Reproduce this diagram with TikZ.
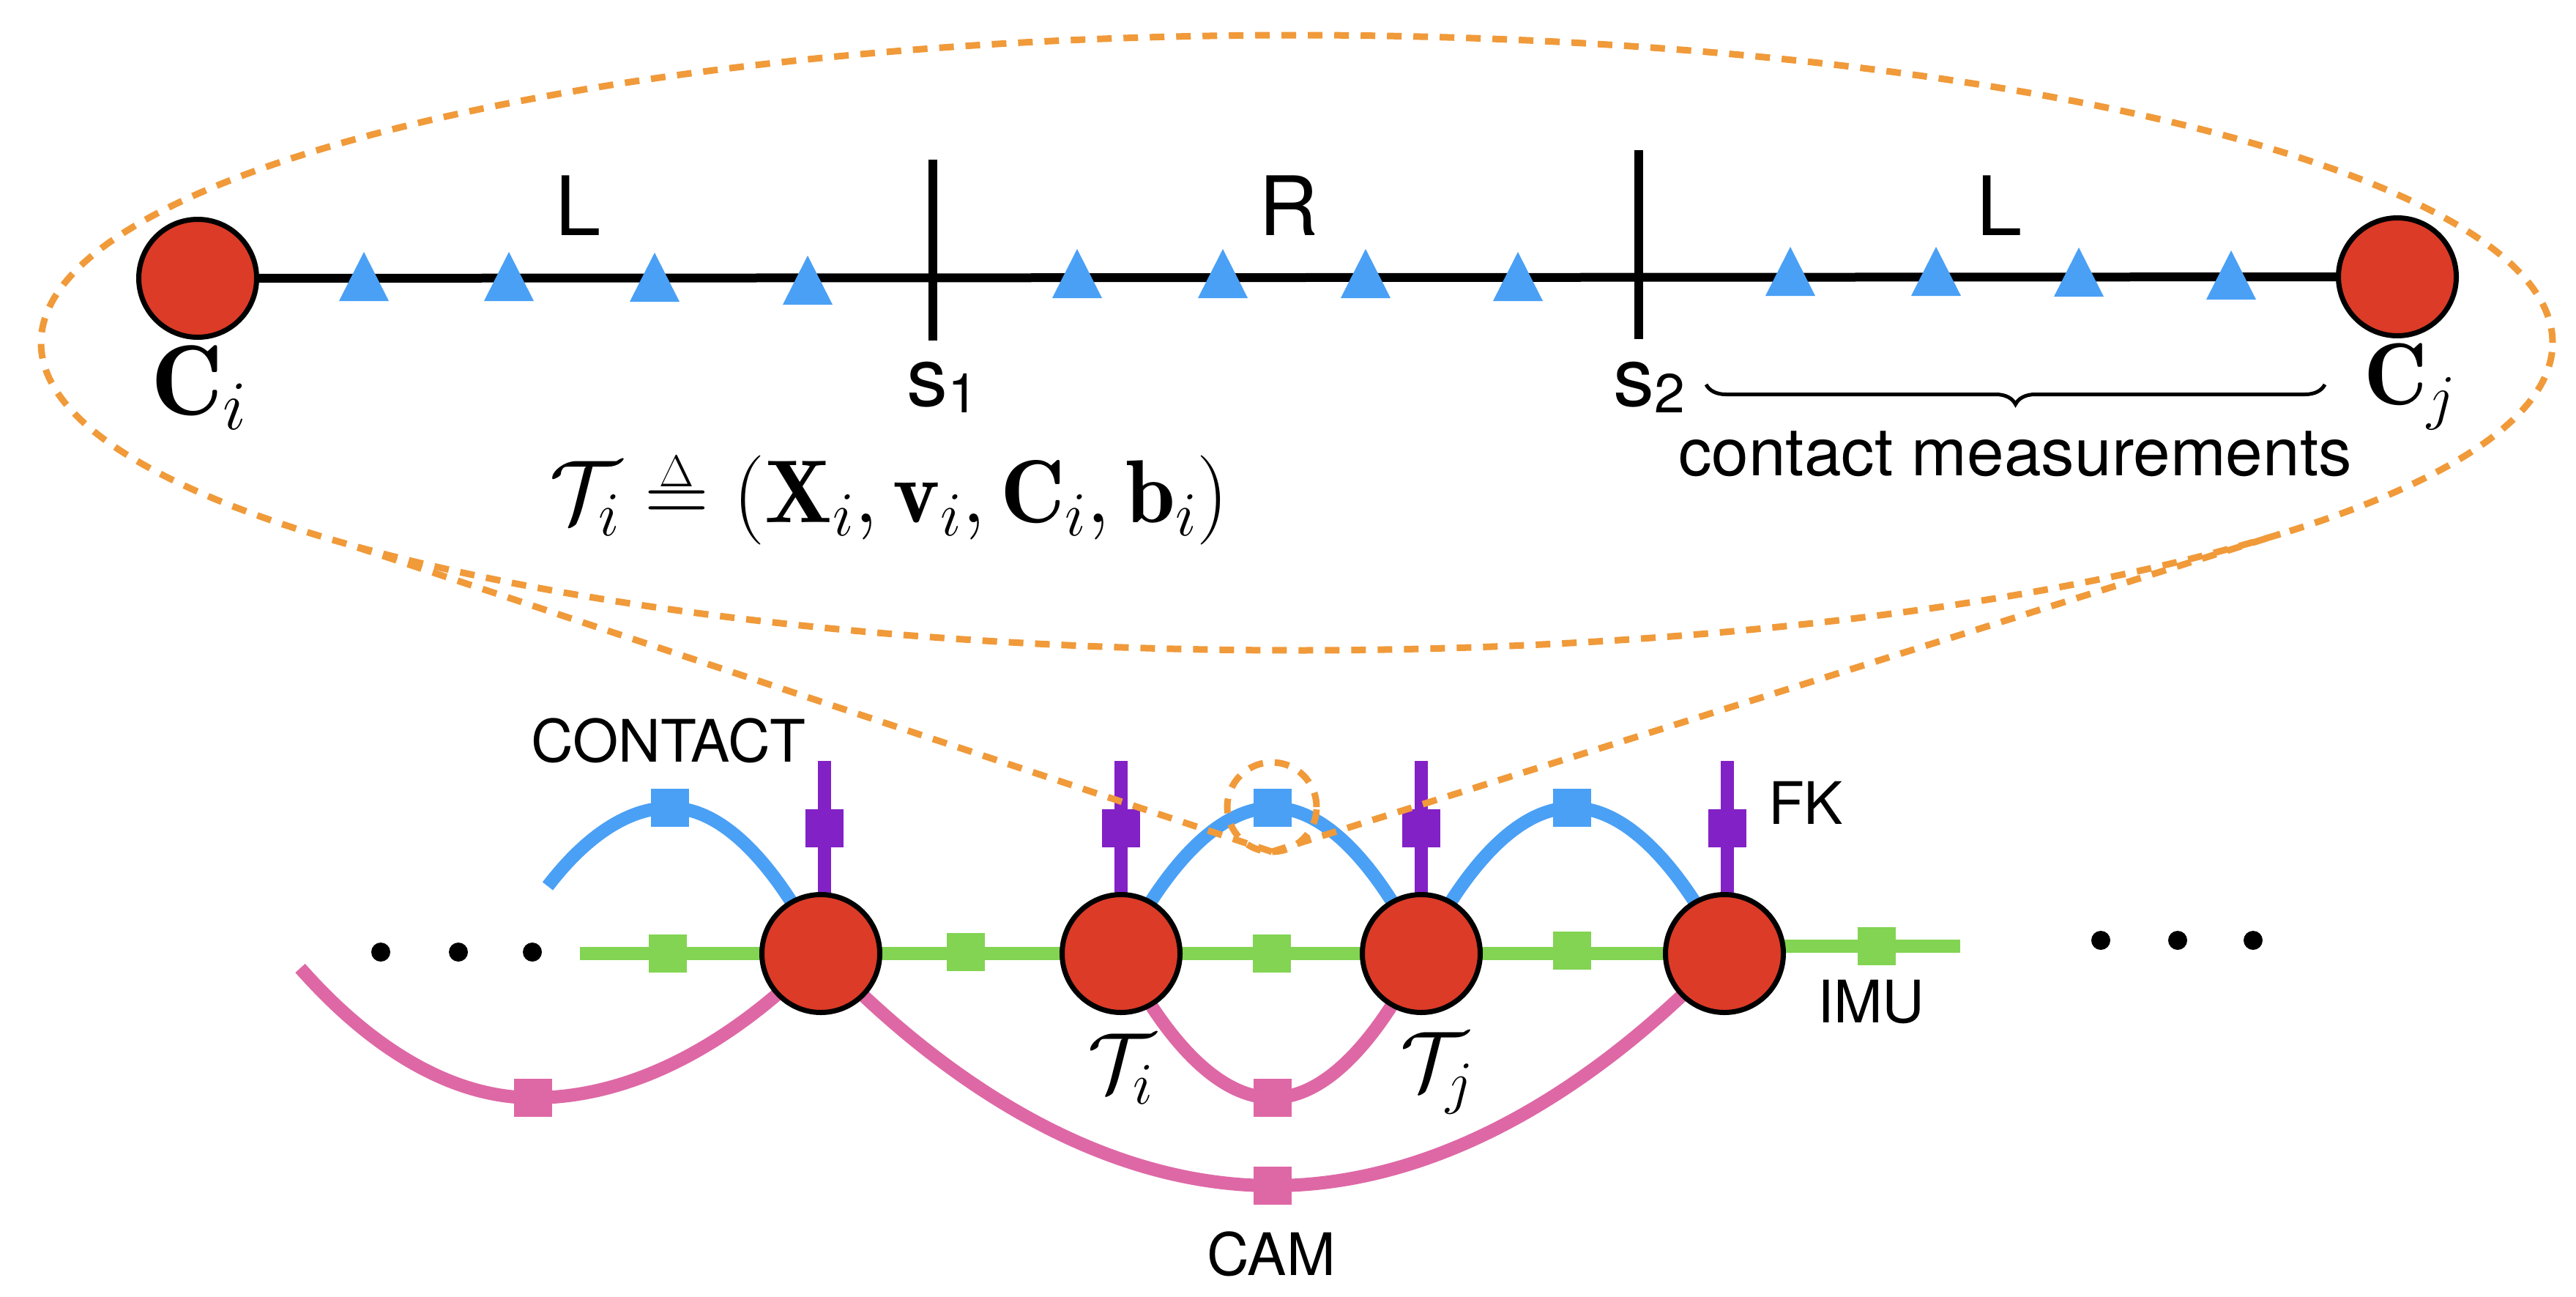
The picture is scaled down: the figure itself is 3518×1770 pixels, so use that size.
\RequirePackage{fix-cm}
\documentclass[tikz,border=0pt]{standalone}
\usepackage{amsmath}
\usepackage{fontspec}
\newfontfamily\hvfont{TeX Gyre Heros}
\usetikzlibrary{shapes.geometric,decorations.pathreplacing,backgrounds}
\definecolor{nodered}{RGB}{219,59,39}
\definecolor{cblue}{RGB}{74,160,245}
\definecolor{cgreen}{RGB}{130,212,82}
\definecolor{cpurple}{RGB}{130,33,198}
\definecolor{cpink}{RGB}{222,104,165}
\definecolor{corange}{RGB}{240,154,58}
\newcommand\sansL{\hvfont\fontsize{112}{120}\selectfont}
\newcommand\sansM{\hvfont\fontsize{91}{100}\selectfont}
\newcommand\sansS{\hvfont\fontsize{80}{90}\selectfont}
\newcommand\sansSub{\hvfont\fontsize{75}{80}\selectfont}
\begin{document}
\begin{tikzpicture}[x=1pt,y=-1pt,
  state/.style={circle, draw=black, line width=7pt, fill=nodered, minimum size=161pt, inner sep=0pt, outer sep=0pt},
  fsq/.style={rectangle, minimum size=52pt, inner sep=0pt, outer sep=0pt},
  bsq/.style={fsq, fill=cblue},
  gsq/.style={fsq, fill=cgreen},
  psq/.style={fsq, fill=cpurple},
  ksq/.style={fsq, fill=cpink},
  gline/.style={draw=cgreen, line width=18pt},
  bline/.style={draw=cblue, line width=18pt},
  kline/.style={draw=cpink, line width=18pt},
  pline/.style={draw=cpurple, line width=18pt},
  odash/.style={draw=corange, line width=9pt, dash pattern=on 20pt off 16pt},
  lbl/.style={inner sep=0pt, outer sep=0pt},
  tick/.style={line width=12pt}
]
\useasboundingbox (0,0) rectangle (3518,1770);

% ---------- top: zoomed segment ----------
\node[state] (ci) at (270,380) {};
\node[state] (cj) at (3274,378) {};
\begin{pgfonlayer}{background}
\draw[line width=12pt] (ci) -- (cj);
\end{pgfonlayer}
\foreach \tx/\ty in {497/411, 695/411, 894/412, 1103/416, 1471/407, 1670/407, 1865/407, 2073/411, 2445/404, 2644/404, 2839/405, 3047/409}
  \fill[cblue] (\tx-34,\ty) -- (\tx+34,\ty) -- (\tx,\ty-67) -- cycle;
\coordinate (s1t) at (1274,218); \coordinate (s1b) at (1274,465);
\coordinate (s2t) at (2238,205); \coordinate (s2b) at (2238,463);
\draw[tick] (s1t) -- (s1b);
\draw[tick] (s2t) -- (s2b);

\node[lbl, anchor=base] (lL) at (790,321) {\sansL L};
\node[lbl, anchor=base] (lR) at (1760,321) {\sansL R};
\node[lbl, anchor=base] (lL2) at (2731,321) {\sansL L};
\node[lbl, anchor=base west] (ls1) at (1238,554) {\sansL s\raisebox{-9pt}{\sansSub 1}};
\node[lbl, anchor=base west] (ls2) at (2203,554) {\sansL s\raisebox{-9pt}{\sansSub 2}};
\node[lbl, anchor=base west] (lci) at (206,566) {\fontsize{136}{140}\selectfont $\mathbf{C}_i$};
\node[lbl, anchor=base west] (lcj) at (3228,552) {\fontsize{120}{125}\selectfont $\mathbf{C}_j$};
\coordinate (brL) at (2330,525); \coordinate (brR) at (3175,525);
\draw[decorate, decoration={brace, mirror, amplitude=27pt}, line width=5pt] (brL) -- (brR);
\node[lbl, anchor=base] (lcm) at (2752,649) {\sansM contact measurements};
\node[lbl, anchor=base] (lform) at (1214,713) {\fontsize{122}{130}\selectfont $\mathcal{T}_i \overset{\scriptscriptstyle\Delta}{=} (\mathbf{X}_i, \mathbf{v}_i, \mathbf{C}_i, \mathbf{b}_i)$};

% ---------- bottom: factor graph ----------
\node[state] (n1) at (1121,1302) {};
\node[state] (n2) at (1531,1302) {};
\node[state] (n3) at (1941,1302) {};
\node[state] (n4) at (2355,1302) {};

\coordinate (imuL) at (792,1302);
\coordinate (imuR) at (2677,1292);
\coordinate (fk1) at (1126,1039);
\coordinate (fk2) at (1531,1039);
\coordinate (fk3) at (1941,1039);
\coordinate (fk4) at (2359,1039);
\coordinate (cL) at (748,1210);
\coordinate (kL) at (410,1322);

\begin{pgfonlayer}{background}
\draw[gline] (imuL) -- (n1);
\draw[gline] (n1) -- (n2);
\draw[gline] (n2) -- (n3);
\draw[gline] (n3) -- (n4);
\draw[gline] (n4.center |- imuR) -- (imuR);
\draw[pline] (fk1) -- (fk1 |- n1.center);
\draw[pline] (fk2) -- (fk2 |- n2.center);
\draw[pline] (fk3) -- (fk3 |- n3.center);
\draw[pline] (fk4) -- (fk4 |- n4.center);
\draw[bline] (cL) parabola bend (915,1103) (n1.center);
\draw[bline] (n2.center) parabola bend (1738,1103) (n3.center);
\draw[bline] (n3.center) parabola bend (2147,1103) (n4.center);
\draw[kline] (kL) parabola bend (728,1499) (n1.center);
\draw[kline] (n1.center) parabola bend (1738,1619) (n4.center);
\draw[kline] (n2.center) parabola bend (1738,1499) (n3.center);
\end{pgfonlayer}

\node[gsq] (g0) at (912,1302) {};
\node[gsq] (g1) at (1319,1300) {};
\node[gsq] (g2) at (1737,1302) {};
\node[gsq] (g3) at (2147,1298) {};
\node[gsq] (g4) at (2563,1292) {};
\node[psq] (p1) at (1126,1131) {};
\node[psq] (p2) at (1531,1131) {};
\node[psq] (p3) at (1941,1131) {};
\node[psq] (p4) at (2359,1131) {};
\node[bsq] (b0) at (915,1103) {};
\node[bsq] (b1) at (1738,1103) {};
\node[bsq] (b2) at (2147,1103) {};
\node[ksq] (k0) at (728,1499) {};
\node[ksq] (k1) at (1738,1619) {};
\node[ksq] (k2) at (1738,1499) {};

\foreach \dx/\dy in {520/1300, 626/1300, 727/1300, 2869/1284, 2974/1284, 3077/1284}
  \fill (\dx,\dy) circle[radius=13pt];

\node[lbl, anchor=base] (lcontact) at (913,1040) {\sansS CONTACT};
\node[lbl, anchor=base west] (lfk) at (2415,1125) {\sansS FK};
\node[lbl, anchor=base west] (limu) at (2482,1396) {\sansS IMU};
\node[lbl, anchor=base] (lcam) at (1736,1741) {\sansS CAM};
\node[lbl, anchor=base west] (lti) at (1485,1490) {\fontsize{115}{120}\selectfont $\mathcal{T}_i$};
\node[lbl, anchor=base west] (ltj) at (1912,1488) {\fontsize{115}{120}\selectfont $\mathcal{T}_j$};

% ---------- zoom indicator ----------
\node[ellipse, odash, minimum width=3430pt, minimum height=840pt, inner sep=0pt, outer sep=0pt] (zoom) at (1771,468) {};
\node[circle, odash, minimum size=122pt, inner sep=0pt, outer sep=0pt] (zc) at (1737,1102) {};
\draw[odash] (zc.south) -- (zoom.192);
\draw[odash] (zc.south) -- (zoom.349);
\end{tikzpicture}
\end{document}
